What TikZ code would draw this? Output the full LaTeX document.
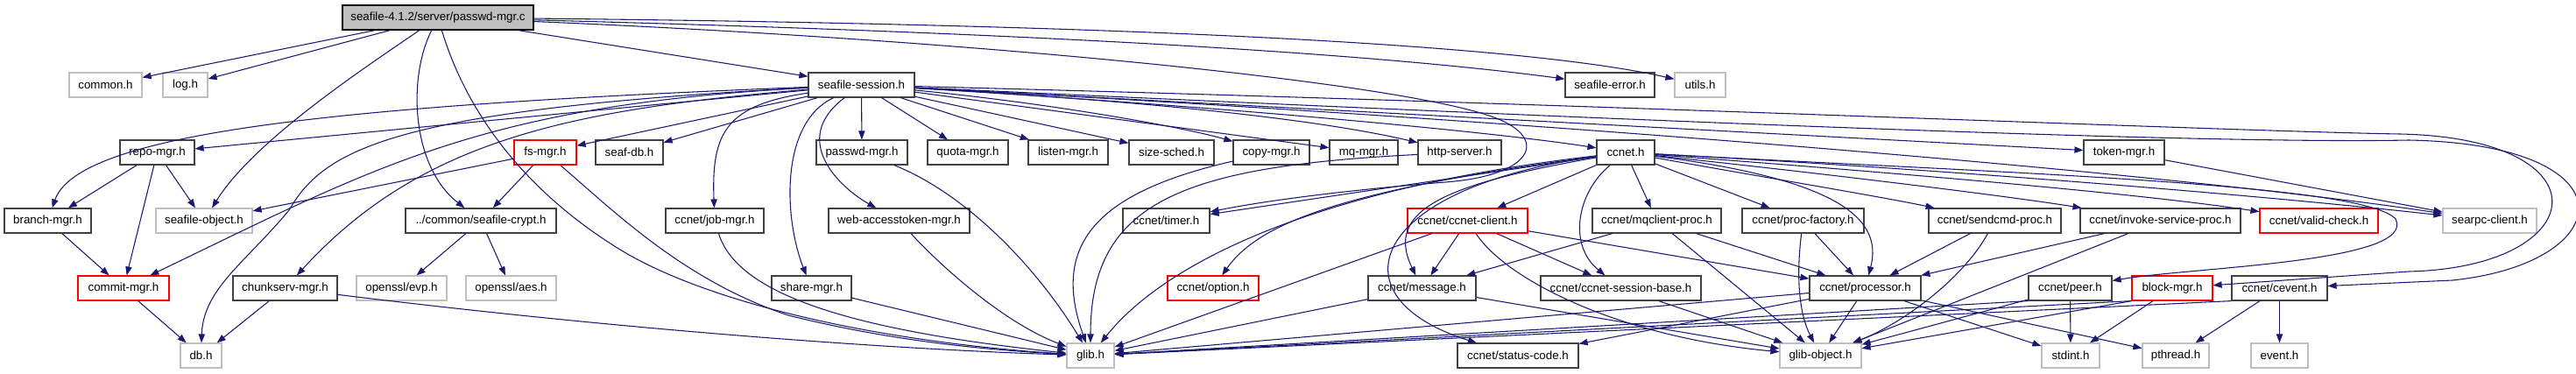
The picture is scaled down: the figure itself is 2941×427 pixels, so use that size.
\documentclass[tikz,border=0pt]{standalone}
\usepackage{fontspec}
\setmainfont{Liberation Sans}
\usetikzlibrary{arrows.meta}
\definecolor{edgec}{HTML}{191970}
\definecolor{greyb}{HTML}{BFBFBF}
\definecolor{darkb}{HTML}{404040}
\definecolor{redb}{HTML}{FF0000}
\definecolor{mainfill}{HTML}{BFBFBF}
\tikzset{
  base/.style={draw, inner sep=0pt, line width=0.9pt, font=\fontsize{10pt}{12pt}\selectfont},
  blk/.style={base, draw=darkb},
  gry/.style={base, draw=greyb},
  redn/.style={base, draw=redb},
  mainn/.style={base, draw=black, fill=mainfill},
  dep/.style={draw=edgec, line width=0.8pt, -{Triangle[length=7.5pt,width=5.5pt]}}
}
\newcommand{\gn}[7]{\node[#1,minimum width={(#5-#3)*0.75pt},minimum height={(#6-#4)*0.75pt}] (#2) at ({(#3+#5)/2},{(#4+#6)/2}) {#7};}
\begin{document}
\begin{tikzpicture}[x=0.75pt,y=-0.75pt]
\useasboundingbox (0,0) rectangle (2941,427);
% row 0
\gn{mainn}{m}{391}{6}{609}{34}{seafile-4.1.2/server/passwd-mgr.c}
% row 1
\gn{gry}{common}{79}{83}{162}{111}{common.h}
\gn{gry}{log}{186}{83}{237}{111}{log.h}
\gn{blk}{s}{923}{83}{1044}{111}{seafile-session.h}
\gn{blk}{serror}{1787}{83}{1889}{111}{seafile-error.h}
\gn{gry}{utils}{1912}{83}{1970}{111}{utils.h}
% row 2
\gn{blk}{repo}{137}{160}{222}{188}{repo-mgr.h}
\gn{redn}{fsmgr}{587}{160}{658}{188}{fs-mgr.h}
\gn{blk}{seafdb}{680}{160}{757}{188}{seaf-db.h}
\gn{blk}{passwdh}{932}{160}{1036}{188}{passwd-mgr.h}
\gn{blk}{quota}{1059}{160}{1151}{188}{quota-mgr.h}
\gn{blk}{listen}{1174}{160}{1265}{188}{listen-mgr.h}
\gn{blk}{sizes}{1289}{160}{1386}{188}{size-sched.h}
\gn{blk}{copy}{1408}{160}{1495}{188}{copy-mgr.h}
\gn{blk}{mq}{1518}{160}{1596}{188}{mq-mgr.h}
\gn{blk}{http}{1619}{160}{1714}{188}{http-server.h}
\gn{blk}{ccnet}{1823}{160}{1889}{188}{ccnet.h}
\gn{blk}{token}{2379}{160}{2471}{188}{token-mgr.h}
% row 3
\gn{blk}{branch}{5}{238}{104}{266}{branch-mgr.h}
\gn{gry}{sobj}{178}{238}{288}{266}{seafile-object.h}
\gn{blk}{crypt}{463}{238}{635}{266}{../common/seafile-crypt.h}
\gn{blk}{job}{760}{238}{872}{266}{ccnet/job-mgr.h}
\gn{blk}{web}{946}{238}{1107}{266}{web-accesstoken-mgr.h}
\gn{blk}{timer}{1282}{238}{1381}{266}{ccnet/timer.h}
\gn{redn}{client}{1607}{238}{1744}{266}{ccnet/ccnet-client.h}
\gn{blk}{mqclient}{1818}{238}{1965}{266}{ccnet/mqclient-proc.h}
\gn{blk}{procf}{1989}{238}{2128}{266}{ccnet/proc-factory.h}
\gn{blk}{sendcmd}{2202}{238}{2353}{266}{ccnet/sendcmd-proc.h}
\gn{blk}{invoke}{2375}{238}{2558}{266}{ccnet/invoke-service-proc.h}
\gn{redn}{valid}{2580}{238}{2715}{266}{ccnet/valid-check.h}
\gn{gry}{searpc}{2789}{238}{2896}{266}{searpc-client.h}
% row 4
\gn{redn}{commit}{89}{315}{193}{343}{commit-mgr.h}
\gn{blk}{chunk}{266}{315}{385}{343}{chunkserv-mgr.h}
\gn{gry}{evp}{407}{315}{510}{343}{openssl/evp.h}
\gn{gry}{aes}{532}{315}{635}{343}{openssl/aes.h}
\gn{blk}{share}{881}{315}{972}{343}{share-mgr.h}
\gn{redn}{option}{1333}{315}{1437}{343}{ccnet/option.h}
\gn{blk}{message}{1562}{315}{1685}{343}{ccnet/message.h}
\gn{blk}{sessbase}{1759}{315}{1942}{343}{ccnet/ccnet-session-base.h}
\gn{blk}{processor}{2066}{315}{2193}{343}{ccnet/processor.h}
\gn{blk}{peer}{2316}{315}{2411}{343}{ccnet/peer.h}
\gn{redn}{block}{2434}{315}{2526}{343}{block-mgr.h}
\gn{blk}{cevent}{2548}{315}{2657}{343}{ccnet/cevent.h}
% row 5
\gn{gry}{db}{206}{392}{253}{420}{db.h}
\gn{gry}{glib}{1218}{392}{1272}{420}{glib.h}
\gn{blk}{status}{1664}{392}{1802}{420}{ccnet/status-code.h}
\gn{gry}{gobj}{2032}{392}{2125}{420}{glib-object.h}
\gn{gry}{stdint}{2331}{392}{2397}{420}{stdint.h}
\gn{gry}{pthread}{2446}{392}{2522}{420}{pthread.h}
\gn{gry}{event}{2570}{392}{2635}{420}{event.h}

% main file
\draw[dep] (m) -- (common);
\draw[dep] (m) -- (log);
\draw[dep] (m) -- (s);
\draw[dep] (m) .. controls (1000,33) and (1500,52) .. (serror);
\draw[dep] (m) .. controls (1100,26) and (1700,42) .. (utils);
\draw[dep] (m) .. controls (1100,45) and (1580,92) .. (1700,132) .. controls (1770,155) and (1755,200) .. (1650,208) .. controls (1550,216) and (1450,228) .. (timer);
\draw[dep] (m) .. controls (420,75) and (290,160) .. (sobj);
\draw[dep] (m) .. controls (465,90) and (470,190) .. (crypt);
\draw[dep] (m) .. controls (530,120) and (590,210) .. (700,280) .. controls (800,345) and (1000,390) .. (glib);

% seafile-session.h
\draw[dep] (s) -- (repo);
\draw[dep] (s) .. controls (400,120) and (90,150) .. (branch);
\draw[dep] (s) .. controls (550,120) and (430,190) .. (commit);
\draw[dep] (s) .. controls (450,125) and (370,170) .. (330,240) .. controls (280,300) and (232,330) .. (db);
\draw[dep] (s) .. controls (650,125) and (480,160) .. (chunk);
\draw[dep] (s) -- (fsmgr);
\draw[dep] (s) -- (seafdb);
\draw[dep] (s) -- (passwdh);
\draw[dep] (s) -- (quota);
\draw[dep] (s) -- (listen);
\draw[dep] (s) -- (sizes);
\draw[dep] (s) .. controls (1200,118) and (1350,145) .. (copy);
\draw[dep] (s) -- (mq);
\draw[dep] (s) .. controls (1300,115) and (1500,135) .. (http);
\draw[dep] (s) .. controls (1400,122) and (1700,150) .. (ccnet);
\draw[dep] (s) -- (token);
\draw[dep] (s) .. controls (830,120) and (812,150) .. (job);
\draw[dep] (s) .. controls (890,140) and (895,250) .. (share);
\draw[dep] (s) .. controls (900,160) and (960,215) .. (web);
\draw[dep] (s) .. controls (1800,140) and (2500,200) .. (searpc);
\draw[dep] (s) .. controls (1800,118) and (2550,150) .. (2740,153) .. controls (2980,158) and (2960,305) .. (2750,310) -- (block);
\draw[dep] (s) .. controls (1800,135) and (2500,165) .. (2750,160) .. controls (3010,165) and (2990,300) .. (2800,320) -- (cevent);

% ccnet.h
\draw[dep] (ccnet) -- (timer);
\draw[dep] (ccnet) -- (client);
\draw[dep] (ccnet) -- (mqclient);
\draw[dep] (ccnet) -- (procf);
\draw[dep] (ccnet) .. controls (2000,200) and (2150,225) .. (sendcmd);
\draw[dep] (ccnet) .. controls (2100,200) and (2300,225) .. (invoke);
\draw[dep] (ccnet) .. controls (2200,200) and (2450,222) .. (valid);
\draw[dep] (ccnet) .. controls (2250,195) and (2600,225) .. (searpc);
\draw[dep] (ccnet) .. controls (2300,198) and (2700,210) .. (2735,250) .. controls (2760,300) and (2500,305) .. (peer);
\draw[dep] (ccnet) .. controls (2100,205) and (2150,250) .. (processor);
\draw[dep] (ccnet) .. controls (1800,220) and (1790,280) .. (sessbase);
\draw[dep] (ccnet) .. controls (1650,210) and (1580,240) .. (message);
\draw[dep] (ccnet) .. controls (1560,215) and (1520,340) .. (status);
\draw[dep] (ccnet) .. controls (1550,215) and (1440,250) .. (option);
\draw[dep] (ccnet) .. controls (1500,215) and (1330,300) .. (glib);

% lower levels
\draw[dep] (repo) -- (branch);
\draw[dep] (repo) -- (commit);
\draw[dep] (repo) -- (sobj);
\draw[dep] (branch) -- (commit);
\draw[dep] (commit) -- (db);
\draw[dep] (chunk) -- (db);
\draw[dep] (chunk) .. controls (700,375) and (1000,398) .. (glib);
\draw[dep] (fsmgr) -- (sobj);
\draw[dep] (fsmgr) -- (crypt);
\draw[dep] (fsmgr) .. controls (700,240) and (780,320) .. (900,360) .. controls (1000,385) and (1100,398) .. (glib);
\draw[dep] (crypt) -- (evp);
\draw[dep] (crypt) -- (aes);
\draw[dep] (job) .. controls (840,330) and (950,375) .. (glib);
\draw[dep] (share) -- (glib);
\draw[dep] (web) .. controls (1080,310) and (1150,370) .. (glib);
\draw[dep] (passwdh) .. controls (1100,220) and (1180,300) .. (glib);
\draw[dep] (copy) .. controls (1250,220) and (1200,280) .. (glib);
\draw[dep] (http) .. controls (1350,190) and (1245,230) .. (glib);
\draw[dep] (client) -- (message);
\draw[dep] (client) -- (glib);
\draw[dep] (client) -- (sessbase);
\draw[dep] (client) -- (processor);
\draw[dep] (client) .. controls (1720,320) and (1850,385) .. (gobj);
\draw[dep] (mqclient) -- (message);
\draw[dep] (mqclient) -- (processor);
\draw[dep] (mqclient) -- (gobj);
\draw[dep] (procf) -- (processor);
\draw[dep] (procf) .. controls (2050,320) and (2055,360) .. (gobj);
\draw[dep] (sendcmd) -- (processor);
\draw[dep] (sendcmd) .. controls (2240,320) and (2170,370) .. (gobj);
\draw[dep] (invoke) -- (processor);
\draw[dep] (invoke) -- (gobj);
\draw[dep] (processor) -- (glib);
\draw[dep] (processor) -- (gobj);
\draw[dep] (processor) -- (status);
\draw[dep] (processor) -- (stdint);
\draw[dep] (processor) -- (pthread);
\draw[dep] (message) -- (glib);
\draw[dep] (message) -- (gobj);
\draw[dep] (sessbase) -- (gobj);
\draw[dep] (peer.south west) -- (glib);
\draw[dep] (peer) -- (gobj);
\draw[dep] (peer) -- (stdint);
\draw[dep] (block.south west) -- (glib);
\draw[dep] (block.south west) -- (gobj);
\draw[dep] (block) -- (stdint);
\draw[dep] (cevent.south west) -- (glib);
\draw[dep] (cevent) -- (pthread);
\draw[dep] (cevent) -- (event);
\draw[dep] (token) -- (searpc);
\end{tikzpicture}
\end{document}
